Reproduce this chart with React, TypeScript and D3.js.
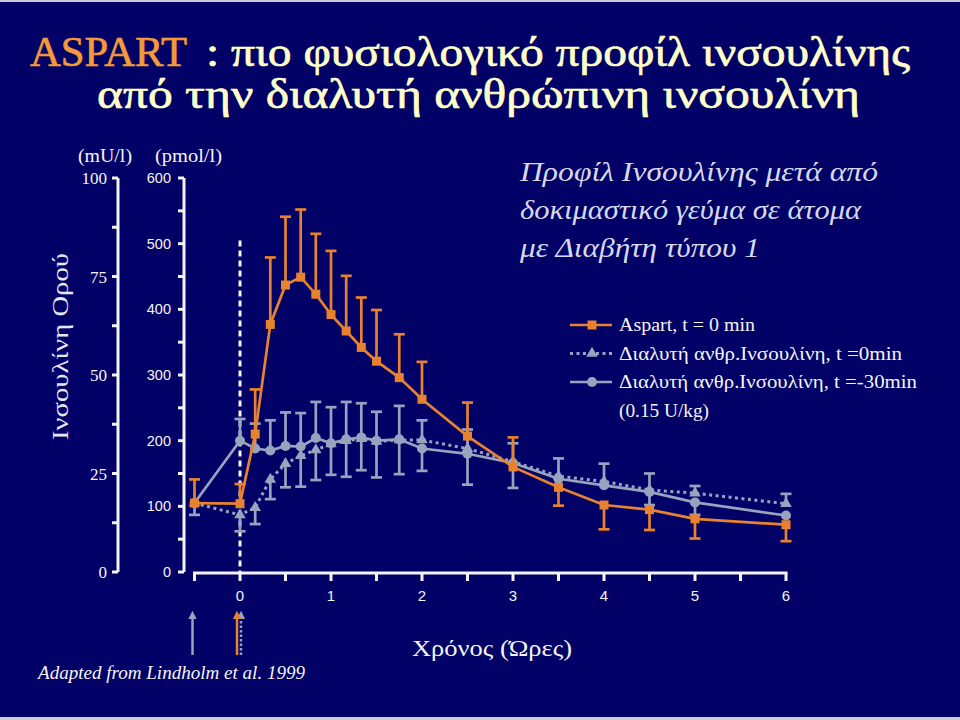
import React from "react";
import * as d3 from "d3";

const TIMES = [-0.5, 0, 0.167, 0.333, 0.5, 0.667, 0.833, 1, 1.167, 1.333, 1.5, 1.75, 2, 2.5, 3, 3.5, 4, 4.5, 5, 6];
const ASPART = [105, 104, 210, 377, 437, 449, 423, 392, 367, 342, 321, 296, 263, 207, 160, 129, 102, 95, 81, 72];
const ASPART_UP = [36, 30, 68, 102, 104, 103, 92, 97, 84, 76, 78, 66, 57, 51, 45, 0, 0, 0, 0, 0];
const ASPART_DN = [0, 0, 0, 0, 0, 0, 0, 0, 0, 0, 0, 0, 0, 0, 0, 28, 37, 31, 30, 25];
const HUMAN0 = [105, 87, 98, 141, 165, 177, 186, 195, 200, 203, 199, 201, 201, 188, 168, 146, 138, 125, 120, 104];
const HUMAN0_UP = [0, 0, 0, 0, 0, 0, 0, 0, 0, 0, 0, 0, 30, 29, 28, 27, 27, 25, 11, 15];
const HUMAN0_DN = [0, 25, 25, 30, 36, 47, 46, 47, 55, 48, 55, 52, 0, 0, 0, 0, 0, 0, 0, 0];
const HUMAN30 = [105, 200, 188, 185, 192, 191, 204, 196, 202, 205, 200, 202, 188, 180, 166, 142, 132, 122, 106, 86];
const HUMAN30_UP = [0, 33, 38, 46, 51, 51, 55, 55, 57, 52, 44, 51, 0, 0, 0, 0, 0, 0, 0, 0];
const HUMAN30_DN = [18, 0, 0, 0, 0, 0, 0, 0, 0, 0, 0, 0, 34, 47, 38, 0, 0, 20, 19, 0];

const PMOL_TICKS = [0, 100, 200, 300, 400, 500, 600];
const MU_TICKS = [0, 25, 50, 75, 100];
const TIME_TICKS = [0, 1, 2, 3, 4, 5, 6];

const LEGEND = [
  "Aspart, t = 0 min",
  "Διαλυτή ανθρ.Ινσουλίνη, t =0min",
  "Διαλυτή ανθρ.Ινσουλίνη, t =-30min",
  "(0.15 U/kg)",
];
const LEGEND_W = [136, 283, 298, 90];
const TITLE_A = "ASPART";
const TITLE_1 = ": πιο φυσιολογικό προφίλ ινσουλίνης";
const TITLE_2 = "από την διαλυτή ανθρώπινη ινσουλίνη";
const NOTE = ["Προφίλ Ινσουλίνης μετά από", "δοκιμαστικό γεύμα σε  άτομα", "με Διαβήτη τύπου 1"];
const NOTE_W = [358, 341, 240];

const BG = "#000066";
const ORANGE = "#E8822E";
const GRAY = "#98A3BF";
const WHITE = "#F4F4F4";
const SERIF = "'Liberation Serif', 'DejaVu Serif', serif";
const SANS = "'Liberation Sans', Arial, sans-serif";

const x = d3.scaleLinear().domain([-0.5, 6]).range([194.5, 786]);
const y = d3.scaleLinear().domain([0, 600]).range([572, 178]);
const yMu = d3.scaleLinear().domain([0, 100]).range([572, 178]);

type Series = { values: number[]; up: number[]; dn: number[]; color: string; dashed: boolean; marker: string };

const SERIES: Series[] = [
  { values: HUMAN0, up: HUMAN0_UP, dn: HUMAN0_DN, color: GRAY, dashed: true, marker: "triangle" },
  { values: HUMAN30, up: HUMAN30_UP, dn: HUMAN30_DN, color: GRAY, dashed: false, marker: "circle" },
  { values: ASPART, up: ASPART_UP, dn: ASPART_DN, color: ORANGE, dashed: false, marker: "square" },
];
const LEGEND_ORDER = [2, 0, 1];

function Marker({ kind, cx, cy, color }: { kind: string; cx: number; cy: number; color: string }) {
  if (kind === "square") return <rect x={cx - 4.5} y={cy - 4.5} width={9} height={9} fill={color} />;
  if (kind === "circle") return <circle cx={cx} cy={cy} r={5} fill={color} />;
  const p = d3.symbol().type(d3.symbolTriangle).size(58)();
  return <path d={p || ""} transform={`translate(${cx},${cy})`} fill={color} />;
}

export default function App() {
  const line = d3
    .line<number>()
    .x((_, i) => x(TIMES[i]))
    .y((v) => y(v));

  const capW = 5.5;
  const pmolMinor = d3.range(0, 601, 50);
  const muMinor = d3.range(0, 100.1, 12.5);
  const timeMinor = d3.range(-0.5, 6.01, 0.5);
  const muAxisX = 118;
  const pmolAxisX = 184;
  const axisY = y(0) + 1;

  return (
    <svg width={960} height={720} style={{ position: "absolute", left: 0, top: 0 }}>
      <rect x={0} y={0} width={960} height={720} fill={BG} />
      <rect x={0} y={0} width={960} height={2} fill="#C8CAD6" />
      <rect x={0} y={717} width={960} height={3} fill="#C8CCE0" />

      {/* Title */}
      <text x={30} y={66} fill="#F39A3A" stroke="#F39A3A" strokeWidth={0.7} fontFamily={SERIF} fontSize={43} textLength={157} lengthAdjust="spacingAndGlyphs">
        {TITLE_A}
      </text>
      <text x={206} y={66} fill="#FFFFC8" stroke="#FFFFC8" strokeWidth={0.7} fontFamily={SERIF} fontSize={43} textLength={704} lengthAdjust="spacingAndGlyphs">
        {TITLE_1}
      </text>
      <text x={97} y={108} fill="#FFFFC8" stroke="#FFFFC8" strokeWidth={0.7} fontFamily={SERIF} fontSize={43} textLength={763} lengthAdjust="spacingAndGlyphs">
        {TITLE_2}
      </text>

      {/* Left label */}
      <text
        transform={`translate(68,${(253 + 440) / 2}) rotate(-90)`}
        textAnchor="middle"
        fill="#E4E6F2"
        fontFamily={SERIF}
        fontSize={23}
        textLength={187}
        lengthAdjust="spacingAndGlyphs"
      >
        Ινσουλίνη Ορού
      </text>
      <text x={105} y={162} textAnchor="middle" fill={WHITE} fontFamily={SERIF} fontSize={18} textLength={54} lengthAdjust="spacingAndGlyphs">
        (mU/l)
      </text>
      <text x={188.5} y={162} textAnchor="middle" fill={WHITE} fontFamily={SERIF} fontSize={18} textLength={67} lengthAdjust="spacingAndGlyphs">
        (pmol/l)
      </text>

      {/* mU axis */}
      <line x1={muAxisX} x2={muAxisX} y1={yMu(100)} y2={yMu(0)} stroke={WHITE} strokeWidth={3} />
      {muMinor.map((t) => (
        <line key={"mu" + t} x1={muAxisX - 6} x2={muAxisX} y1={yMu(t)} y2={yMu(t)} stroke={WHITE} strokeWidth={3} />
      ))}
      {MU_TICKS.map((t) => (
        <text key={"mul" + t} x={107} y={yMu(t) + 6} textAnchor="end" fill={WHITE} fontFamily={SERIF} fontSize={17}>
          {t}
        </text>
      ))}

      {/* pmol axis */}
      <line x1={pmolAxisX} x2={pmolAxisX} y1={y(600)} y2={y(0)} stroke={WHITE} strokeWidth={3} />
      {pmolMinor.map((t) => (
        <line key={"pm" + t} x1={pmolAxisX - 6} x2={pmolAxisX} y1={y(t)} y2={y(t)} stroke={WHITE} strokeWidth={3} />
      ))}
      {PMOL_TICKS.map((t) => (
        <text key={"pml" + t} x={171} y={y(t) + 5} textAnchor="end" fill={WHITE} fontFamily={SANS} fontSize={14.5}>
          {t}
        </text>
      ))}

      {/* x axis */}
      <line x1={x(-0.5) - 1.5} x2={x(6) + 1.5} y1={axisY} y2={axisY} stroke={WHITE} strokeWidth={3} />
      {timeMinor.map((t) => (
        <line key={"xt" + t} x1={x(t)} x2={x(t)} y1={axisY} y2={axisY + 8} stroke={WHITE} strokeWidth={3} />
      ))}
      {TIME_TICKS.map((t) => (
        <text key={"xl" + t} x={x(t)} y={601} textAnchor="middle" fill={WHITE} fontFamily={SANS} fontSize={15}>
          {t}
        </text>
      ))}
      <text x={492} y={656} textAnchor="middle" fill={WHITE} fontFamily={SERIF} fontSize={23} textLength={160} lengthAdjust="spacingAndGlyphs">
        Χρόνος (Ώρες)
      </text>
      <text x={38} y={679} fill={WHITE} fontFamily={SERIF} fontStyle="italic" fontSize={18} textLength={267} lengthAdjust="spacingAndGlyphs">
        Adapted from Lindholm et al. 1999
      </text>

      {/* t=0 dashed line */}
      <line x1={x(0)} x2={x(0)} y1={y(505)} y2={y(0)} stroke={WHITE} strokeWidth={3} strokeDasharray="6 4" />

      {/* series */}
      {SERIES.map((s, si) => (
        <g key={"s" + si}>
          {s.values.map((v, i) => (
            <g key={"e" + i} stroke={s.color} strokeWidth={2.7}>
              {s.up[i] > 0 && (
                <>
                  <line x1={x(TIMES[i])} x2={x(TIMES[i])} y1={y(v)} y2={y(v + s.up[i])} />
                  <line x1={x(TIMES[i]) - capW} x2={x(TIMES[i]) + capW} y1={y(v + s.up[i])} y2={y(v + s.up[i])} />
                </>
              )}
              {s.dn[i] > 0 && (
                <>
                  <line x1={x(TIMES[i])} x2={x(TIMES[i])} y1={y(v)} y2={y(v - s.dn[i])} />
                  <line x1={x(TIMES[i]) - capW} x2={x(TIMES[i]) + capW} y1={y(v - s.dn[i])} y2={y(v - s.dn[i])} />
                </>
              )}
            </g>
          ))}
          <path
            d={line(s.values) || ""}
            fill="none"
            stroke={s.color}
            strokeWidth={s.dashed ? 3 : 2.7}
            strokeDasharray={s.dashed ? "3 3.5" : undefined}
          />
          {s.values.map((v, i) => (
            <Marker key={"m" + i} kind={s.marker} cx={x(TIMES[i])} cy={y(v)} color={s.color} />
          ))}
        </g>
      ))}

      {/* Note */}
      {NOTE.map((t, i) => (
        <text
          key={"n" + i}
          x={520}
          y={181 + i * 38}
          fill="#D6D9EC"
          fontFamily={SERIF}
          fontStyle="italic"
          fontSize={27}
          textLength={NOTE_W[i]}
          lengthAdjust="spacingAndGlyphs"
        >
          {t}
        </text>
      ))}

      {/* Legend */}
      {LEGEND_ORDER.map((si, i) => {
        const s = SERIES[si];
        const ly = 325 + i * 28.5;
        return (
          <g key={"lg" + i}>
            <line
              x1={570}
              x2={612}
              y1={ly}
              y2={ly}
              stroke={s.color}
              strokeWidth={s.dashed ? 3 : 2.7}
              strokeDasharray={s.dashed ? "3 3.5" : undefined}
            />
            <Marker kind={s.marker} cx={592} cy={ly} color={s.color} />
          </g>
        );
      })}
      {LEGEND.map((t, i) => (
        <text
          key={"lt" + i}
          x={619}
          y={331 + i * 28.5}
          fill={WHITE}
          fontFamily={SERIF}
          fontSize={18.5}
          textLength={LEGEND_W[i]}
          lengthAdjust="spacingAndGlyphs"
        >
          {t}
        </text>
      ))}

      {/* Arrows */}
      <defs>
        <marker id="ahG" viewBox="0 0 10 10" refX={5} refY={5} markerWidth={3.4} markerHeight={3.6} orient="auto">
          <path d="M0,0 L10,5 L0,10 z" fill={GRAY} />
        </marker>
        <marker id="ahO" viewBox="0 0 10 10" refX={5} refY={5} markerWidth={3.4} markerHeight={3.6} orient="auto">
          <path d="M0,0 L10,5 L0,10 z" fill={ORANGE} />
        </marker>
      </defs>
      <line x1={x(-0.5) - 2} x2={x(-0.5) - 2} y1={655} y2={615} stroke={GRAY} strokeWidth={2.5} markerEnd="url(#ahG)" />
      <line x1={x(0) + 1} x2={x(0) + 1} y1={655} y2={615} stroke={GRAY} strokeWidth={2.5} strokeDasharray="2.5 2" markerEnd="url(#ahG)" />
      <line x1={x(0) - 3} x2={x(0) - 3} y1={655} y2={615} stroke={ORANGE} strokeWidth={2.5} markerEnd="url(#ahO)" />
    </svg>
  );
}
